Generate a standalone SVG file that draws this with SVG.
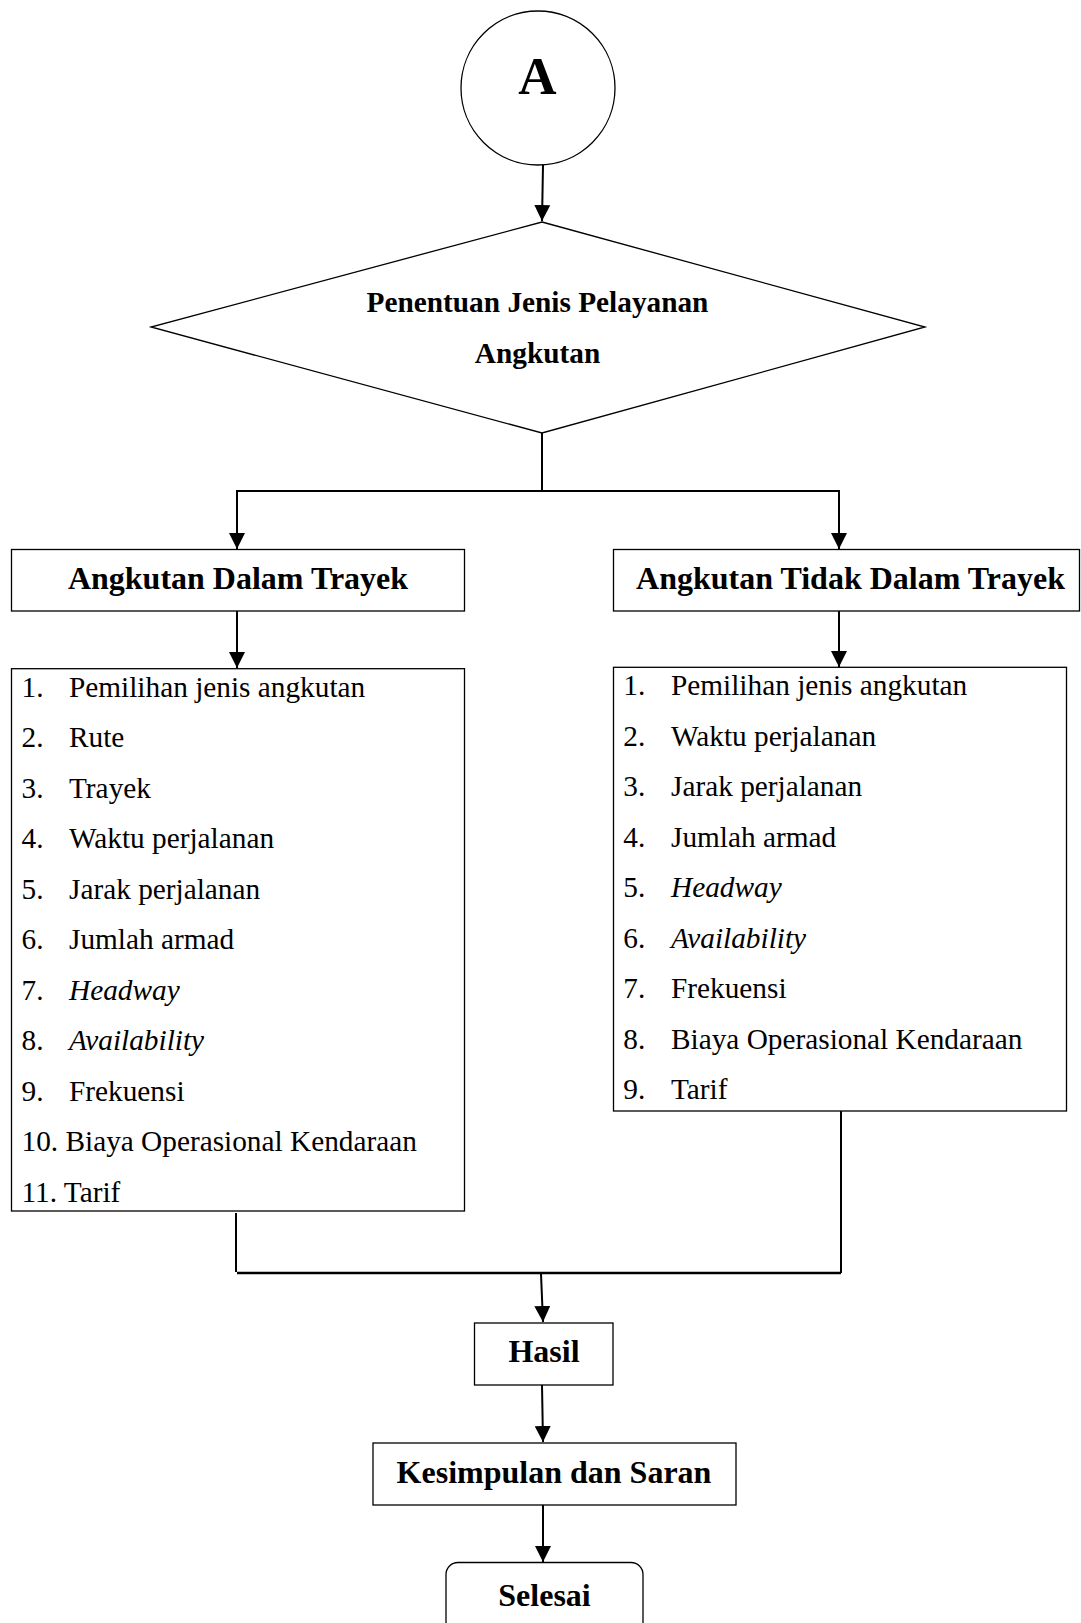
<svg xmlns="http://www.w3.org/2000/svg" width="1081" height="1623" viewBox="0 0 1081 1623">
<style>
.shape{fill:#fff;stroke:#000;stroke-width:1.3}
.conn{fill:none;stroke:#000;stroke-width:2}
.t{font-family:"Liberation Serif","Times New Roman",serif;fill:#000}
.b{font-weight:bold}
.title{font-size:32px;font-weight:bold;text-anchor:middle}
.dia{font-size:29.3px;font-weight:bold;text-anchor:middle}
.li{font-size:29.3px}
.i{font-style:italic}
</style>
<defs>
<marker id="ah" markerWidth="16" markerHeight="16" viewBox="0 0 16 16" refX="16" refY="8" orient="auto" markerUnits="userSpaceOnUse">
<path d="M0,0 L16,8 L0,16 Z" fill="#000"/>
</marker>
</defs>
<rect width="1081" height="1623" fill="#fff"/>

<g id="connectors">
<line class="conn" x1="543" y1="165" x2="542" y2="221" marker-end="url(#ah)"/>
<polyline class="conn" points="542,433 542,491"/>
<polyline class="conn" points="237,491 839,491"/>
<line class="conn" x1="237" y1="490" x2="237" y2="549" marker-end="url(#ah)"/>
<line class="conn" x1="839" y1="490" x2="839" y2="549" marker-end="url(#ah)"/>
<line class="conn" x1="237" y1="611" x2="237" y2="668" marker-end="url(#ah)"/>
<line class="conn" x1="839" y1="611" x2="839" y2="667" marker-end="url(#ah)"/>
<polyline class="conn" points="236,1213 236,1272"/>
<polyline class="conn" points="841,1111 841,1273"/>
<polyline class="conn" style="stroke-width:2.5" points="237,1273 841,1273"/>
<line class="conn" x1="541" y1="1274" x2="543" y2="1322" marker-end="url(#ah)"/>
<line class="conn" x1="542" y1="1385" x2="543" y2="1442" marker-end="url(#ah)"/>
<line class="conn" x1="543" y1="1505" x2="543" y2="1562" marker-end="url(#ah)"/>
</g>

<g id="start">
<circle class="shape" cx="538" cy="88" r="77"/>
<text class="t b" x="537.5" y="94.3" font-size="53" text-anchor="middle">A</text>
</g>

<g id="decision">
<polygon class="shape" points="542,222 925,327 542,433 151,327"/>
<text class="t dia" x="537.5" y="312">Penentuan Jenis Pelayanan</text>
<text class="t dia" x="537.5" y="363">Angkutan</text>
</g>

<g id="dalam-trayek">
<rect class="shape" x="11.5" y="549.5" width="453" height="61.5"/>
<text class="t title" x="238" y="588.5">Angkutan Dalam Trayek</text>
</g>

<g id="tidak-dalam-trayek">
<rect class="shape" x="613.5" y="549.5" width="466" height="61.5"/>
<text class="t title" x="850.5" y="588.5">Angkutan Tidak Dalam Trayek</text>
</g>

<g id="list-dalam">
<rect class="shape" x="11.5" y="668.7" width="453" height="542.3"/>
<g class="t li">
<text x="21.5" y="696.7">1.</text><text x="69" y="696.7">Pemilihan jenis angkutan</text>
<text x="21.5" y="747.2">2.</text><text x="69" y="747.2">Rute</text>
<text x="21.5" y="797.7">3.</text><text x="69" y="797.7">Trayek</text>
<text x="21.5" y="848.2">4.</text><text x="69" y="848.2">Waktu perjalanan</text>
<text x="21.5" y="898.7">5.</text><text x="69" y="898.7">Jarak perjalanan</text>
<text x="21.5" y="949.2">6.</text><text x="69" y="949.2">Jumlah armad</text>
<text x="21.5" y="999.7">7.</text><text class="i" x="69" y="999.7">Headway</text>
<text x="21.5" y="1050.2">8.</text><text class="i" x="69" y="1050.2">Availability</text>
<text x="21.5" y="1100.7">9.</text><text x="69" y="1100.7">Frekuensi</text>
<text x="21.5" y="1151.2">10. Biaya Operasional Kendaraan</text>
<text x="21.5" y="1201.7">11. Tarif</text>
</g>
</g>

<g id="list-tidak">
<rect class="shape" x="613.5" y="667.3" width="453" height="443.7"/>
<g class="t li">
<text x="623.3" y="695">1.</text><text x="671" y="695">Pemilihan jenis angkutan</text>
<text x="623.3" y="745.5">2.</text><text x="671" y="745.5">Waktu perjalanan</text>
<text x="623.3" y="796">3.</text><text x="671" y="796">Jarak perjalanan</text>
<text x="623.3" y="846.5">4.</text><text x="671" y="846.5">Jumlah armad</text>
<text x="623.3" y="897">5.</text><text class="i" x="671" y="897">Headway</text>
<text x="623.3" y="947.5">6.</text><text class="i" x="671" y="947.5">Availability</text>
<text x="623.3" y="998">7.</text><text x="671" y="998">Frekuensi</text>
<text x="623.3" y="1048.5">8.</text><text x="671" y="1048.5">Biaya Operasional Kendaraan</text>
<text x="623.3" y="1099">9.</text><text x="671" y="1099">Tarif</text>
</g>
</g>

<g id="hasil">
<rect class="shape" x="474.5" y="1323" width="138.5" height="62"/>
<text class="t title" x="544" y="1362">Hasil</text>
</g>

<g id="kesimpulan">
<rect class="shape" x="373" y="1443" width="363" height="62"/>
<text class="t title" x="554" y="1483">Kesimpulan dan Saran</text>
</g>

<g id="selesai">
<rect class="shape" x="446" y="1562.5" width="197" height="80" rx="12" ry="12"/>
<text class="t title" x="544.5" y="1606">Selesai</text>
</g>
</svg>
